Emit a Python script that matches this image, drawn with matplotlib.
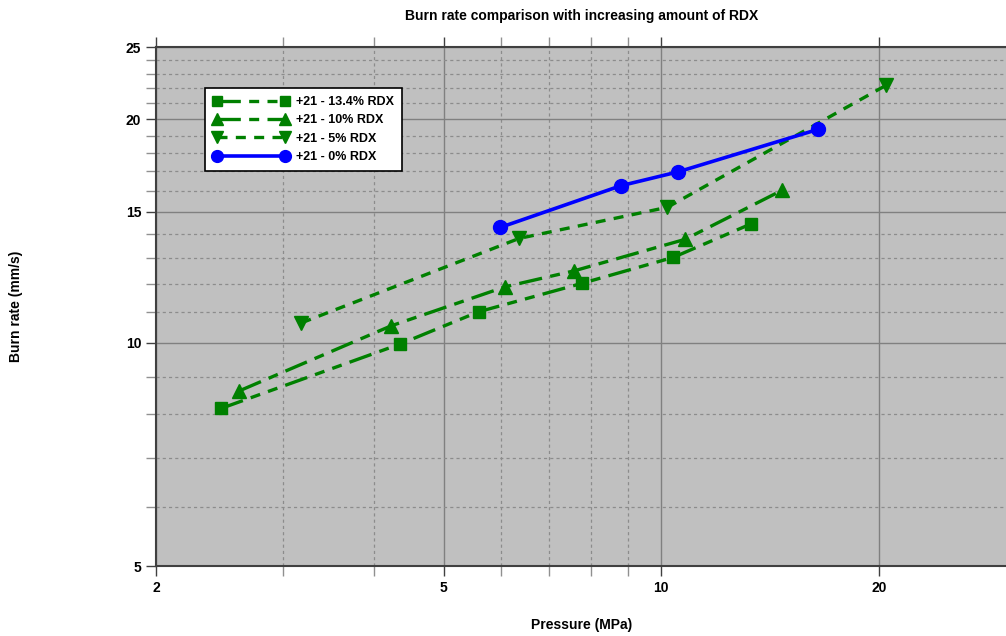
import matplotlib.pyplot as plt
from matplotlib.ticker import FixedLocator, FixedFormatter, NullFormatter

plt.rcParams['font.family'] = ['Liberation Sans', 'DejaVu Sans']

# data (pressure MPa, burn rate mm/s)
p_134 = [2.46, 4.35, 5.59, 7.76, 10.39, 13.3]
r_134 = [8.15, 9.95, 11.0, 12.01, 13.02, 14.44]

p_10 = [2.61, 4.23, 6.09, 7.58, 10.79, 14.71]
r_10 = [8.61, 10.53, 11.89, 12.49, 13.77, 16.04]

p_5 = [3.18, 6.36, 10.2, 20.5]
r_5 = [10.63, 13.81, 15.21, 22.22]

p_0 = [5.99, 8.79, 10.56, 16.49]
r_0 = [14.29, 16.26, 16.98, 19.37]

labels = ['+21 - 13.4% RDX', '+21 - 10% RDX', '+21 - 5% RDX', '+21 - 0% RDX']

x_major = [2, 5, 10, 20]
x_minor = [3, 4, 6, 7, 8, 9]
y_major = [5, 10, 15, 20, 25]
y_minor = [6, 7, 8, 9, 11, 12, 13, 14, 16, 17, 18, 19, 21, 22, 23, 24]

green = '#008000'
blue = '#0000ff'

fig = plt.figure(figsize=(10.06, 6.36), dpi=100)
ax = fig.add_axes([0.155, 0.110, 0.845, 0.816])
ax.set_facecolor('#c0c0c0')
ax.set_xscale('log')
ax.set_yscale('log')
ax.set_xlim(2, 30)
ax.set_ylim(5, 25)

ax.xaxis.set_major_locator(FixedLocator(x_major))
ax.xaxis.set_major_formatter(FixedFormatter([str(v) for v in x_major]))
ax.xaxis.set_minor_locator(FixedLocator(x_minor))
ax.xaxis.set_minor_formatter(NullFormatter())
ax.yaxis.set_major_locator(FixedLocator(y_major))
ax.yaxis.set_major_formatter(FixedFormatter([str(v) for v in y_major]))
ax.yaxis.set_minor_locator(FixedLocator(y_minor))
ax.yaxis.set_minor_formatter(NullFormatter())

ax.grid(which='major', color='#808080', linewidth=1.0, linestyle='-')
ax.grid(which='minor', color='#8c8c8c', linewidth=0.9, linestyle=(0, (2.5, 2.5)))
ax.set_axisbelow(True)

ax.tick_params(which='both', direction='out', colors='#404040', length=7, width=1,
               top=True, labeltop=False)
ax.tick_params(which='minor', colors='#909090')
for lab in ax.get_xticklabels() + ax.get_yticklabels():
    lab.set_fontweight('bold')
    lab.set_fontsize(10)
    lab.set_color('black')

for side in ['left', 'bottom', 'top']:
    ax.spines[side].set_color('#404040')
    ax.spines[side].set_linewidth(1.5)
ax.spines['right'].set_visible(False)

l1, = ax.plot(p_134, r_134, color=green, lw=2.4, marker='s', ms=9, label=labels[0])
l1.set_dashes([7, 2.5, 3, 2.5, 3, 2.5])
l2, = ax.plot(p_10, r_10, color=green, lw=2.4, marker='^', ms=10, label=labels[1])
l2.set_dashes([7, 2.5, 3, 2.5])
l3, = ax.plot(p_5, r_5, color=green, lw=2.4, marker='v', ms=10, label=labels[2])
l3.set_dashes([3, 2.5])
l4, = ax.plot(p_0, r_0, color=blue, lw=2.6, marker='o', ms=10, label=labels[3])

leg = ax.legend(loc='upper left', bbox_to_anchor=(0.058, 0.921), borderaxespad=0,
                fancybox=False, framealpha=1, edgecolor='black', handlelength=6.0,
                numpoints=2, markerscale=0.85, labelspacing=0.5, borderpad=0.65,
                handletextpad=0.6, prop={'weight': 'bold', 'size': 9})
leg.get_frame().set_linewidth(1.2)

fig.text(0.578, 0.975, 'Burn rate comparison with increasing amount of RDX',
         ha='center', va='center', fontsize=10, fontweight='bold')
fig.text(0.578, 0.017, 'Pressure (MPa)', ha='center', va='center',
         fontsize=10, fontweight='bold')
fig.text(0.016, 0.518, 'Burn rate (mm/s)', ha='center', va='center',
         rotation=90, fontsize=10, fontweight='bold')

fig.savefig('out.png', dpi=100)
